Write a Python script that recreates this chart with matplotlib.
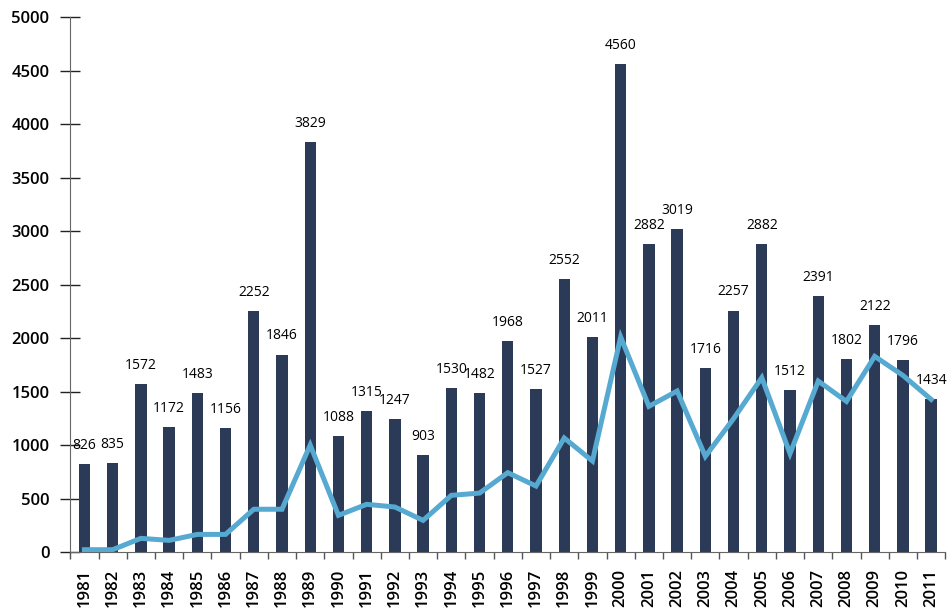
import matplotlib.pyplot as plt
import numpy as np

years = [str(y) for y in range(1981, 2012)]
bar_values = [826, 835, 1572, 1172, 1483, 1156, 2252, 1846, 3829, 1088,
              1315, 1247, 903, 1530, 1482, 1968, 1527, 2552, 2011, 4560,
              2882, 3019, 1716, 2257, 2882, 1512, 2391, 1802, 2122, 1796, 1434]
line_values = [22, 22, 128, 109, 165, 165, 400, 400, 1000, 343,
               446, 421, 296, 530, 551, 742, 617, 1066, 851, 2010,
               1362, 1505, 894, 1247, 1630, 920, 1598, 1408, 1829, 1651, 1427]

plt.rcParams['font.family'] = ['Open Sans', 'DejaVu Sans']

BAR = '#2b3a57'
LINE = '#56a9d0'

fig = plt.figure(figsize=(9.5, 6.1), dpi=100)
ax = fig.add_axes([0.074, 0.095, 0.921, 0.877])

x = np.arange(len(years))
ax.bar(x, bar_values, width=0.4, color=BAR, zorder=2)
ax.plot(x, line_values, color=LINE, linewidth=3.6, zorder=3,
        solid_joinstyle='miter')

for xi, v in zip(x, bar_values):
    ax.annotate(str(v), (xi, v), xytext=(0, 8), textcoords='offset points',
                ha='center', va='bottom', fontsize=10, color='black')

ax.set_xlim(-0.5, len(years) - 0.5)
ax.set_ylim(0, 5000)
ax.set_yticks(range(0, 5001, 500))
ax.tick_params(axis='y', direction='inout', length=14, width=1, color='#222222',
               labelsize=12, pad=8)
ax.set_xticks(x)
ax.set_xticklabels(years, rotation=90, fontsize=12)
ax.tick_params(axis='x', which='major', length=0, pad=12)
ax.set_xticks(np.arange(-0.5, len(years), 1), minor=True)
ax.tick_params(axis='x', which='minor', direction='out', length=5, width=1,
               color='#555555')
for lab in ax.get_xticklabels() + ax.get_yticklabels():
    lab.set_fontweight('semibold')

for s in ['top', 'right']:
    ax.spines[s].set_visible(False)
ax.spines['left'].set_color('#666666')
ax.spines['bottom'].set_color('#666666')

plt.savefig('out.png', dpi=100)
